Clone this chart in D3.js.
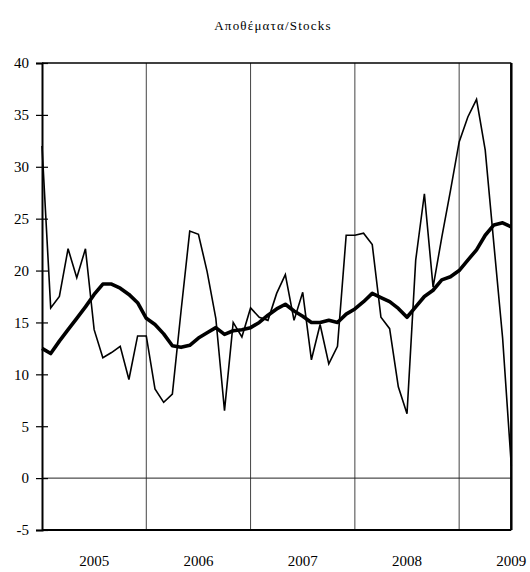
<!DOCTYPE html>
<html>
<head>
<meta charset="utf-8">
<script src="https://cdn.jsdelivr.net/npm/d3@7"></script>
<style>
  html, body { margin: 0; padding: 0; background: #fff; }
  svg { display: block; }
  text { font-family: "Liberation Serif", "Times New Roman", serif; fill: #000; }
</style>
</head>
<body>
<script>
// ---- data ----
const title = "Αποθέματα/Stocks";
const yearLabels = ["2005", "2006", "2007", "2008", "2009"];
const yearLabelIndex = [6, 18, 30, 42, 54];
const yearBoundaryIndex = [12, 24, 36, 48];
const yTicks = [-5, 0, 5, 10, 15, 20, 25, 30, 35, 40];

const monthly = [
  32.0, 16.4, 17.5, 22.1, 19.3, 22.1, 14.3, 11.6, 12.1, 12.7, 9.5, 13.7,
  13.7, 8.6, 7.3, 8.1, 16.1, 23.8, 23.5, 19.9, 15.4, 6.5, 15.0, 13.6,
  16.4, 15.5, 15.2, 17.8, 19.6, 15.2, 17.9, 11.4, 14.8, 11.0, 12.7, 23.4,
  23.4, 23.6, 22.5, 15.5, 14.4, 8.8, 6.2, 21.0, 27.4, 18.4, 23.2, 27.7,
  32.4, 34.8, 36.5, 31.6, 22.5, 13.5, 1.2
];
const movingAvg = [
  12.5, 12.0, 13.2, 14.3, 15.4, 16.5, 17.7, 18.7, 18.7, 18.3, 17.7, 16.9,
  15.4, 14.8, 13.9, 12.75, 12.6, 12.8, 13.5, 14.0, 14.5, 13.85, 14.2, 14.3,
  14.5, 15.0, 15.7, 16.3, 16.75, 16.1, 15.6, 15.0, 15.0, 15.2, 15.0, 15.8,
  16.3, 17.0, 17.8, 17.4, 17.0, 16.35, 15.5, 16.5, 17.5, 18.1, 19.1, 19.4,
  20.0, 21.0, 22.0, 23.4, 24.4, 24.6, 24.2
];

// ---- chart ----
const W = 530, H = 572;
const svg = d3.select("body").append("svg").attr("width", W).attr("height", H);

const x = d3.scaleLinear().domain([0, monthly.length - 1]).range([42, 511.3]);
const y = d3.scaleLinear().domain([-5, 40]).range([530, 63]);

// title
svg.append("text")
  .attr("x", 273).attr("y", 30)
  .attr("text-anchor", "middle")
  .attr("font-size", 13)
  .attr("letter-spacing", 1.2)
  .text(title);

// vertical year gridlines
svg.append("g").selectAll("line").data(yearBoundaryIndex).join("line")
  .attr("x1", d => x(d)).attr("x2", d => x(d))
  .attr("y1", y(40)).attr("y2", y(-5))
  .attr("stroke", "#444").attr("stroke-width", 1);

// zero line
svg.append("line")
  .attr("x1", x(0)).attr("x2", x(monthly.length - 1))
  .attr("y1", y(0)).attr("y2", y(0))
  .attr("stroke", "#222").attr("stroke-width", 1);

// frame
svg.append("line").attr("x1", x(0)).attr("x2", x(54)).attr("y1", y(40)).attr("y2", y(40))
  .attr("stroke", "#000").attr("stroke-width", 1.5);
svg.append("line").attr("x1", x(0)).attr("x2", x(54)).attr("y1", y(-5)).attr("y2", y(-5))
  .attr("stroke", "#000").attr("stroke-width", 2);
svg.append("line").attr("x1", x(54)).attr("x2", x(54)).attr("y1", y(40)).attr("y2", y(-5))
  .attr("stroke", "#000").attr("stroke-width", 2.5);

// y axis
const yAxis = d3.axisLeft(y).tickValues(yTicks).tickSize(6).tickPadding(7).tickFormat(d => String(d));
const gy = svg.append("g").attr("transform", `translate(${x(0)},0)`).call(yAxis);
gy.select(".domain").attr("stroke", "#000").attr("stroke-width", 2);
gy.selectAll(".tick line").attr("stroke", "#000").attr("stroke-width", 1.2)
  .attr("x1", 6).attr("x2", -6);
gy.selectAll(".tick text")
  .attr("font-family", "'Liberation Serif', 'Times New Roman', serif")
  .attr("font-size", 15).attr("fill", "#000");

// year labels
svg.append("g").selectAll("text").data(yearLabels).join("text")
  .attr("x", (d, i) => x(yearLabelIndex[i]))
  .attr("y", 566)
  .attr("text-anchor", "middle")
  .attr("font-size", 15)
  .text(d => d);

// series
const line = d3.line().x((d, i) => x(i)).y(d => y(d));
svg.append("path").datum(monthly)
  .attr("d", line).attr("fill", "none")
  .attr("stroke", "#000").attr("stroke-width", 1.6).attr("stroke-linejoin", "miter");
svg.append("path").datum(movingAvg)
  .attr("d", line).attr("fill", "none")
  .attr("stroke", "#000").attr("stroke-width", 3.6).attr("stroke-linejoin", "round");
</script>
</body>
</html>
